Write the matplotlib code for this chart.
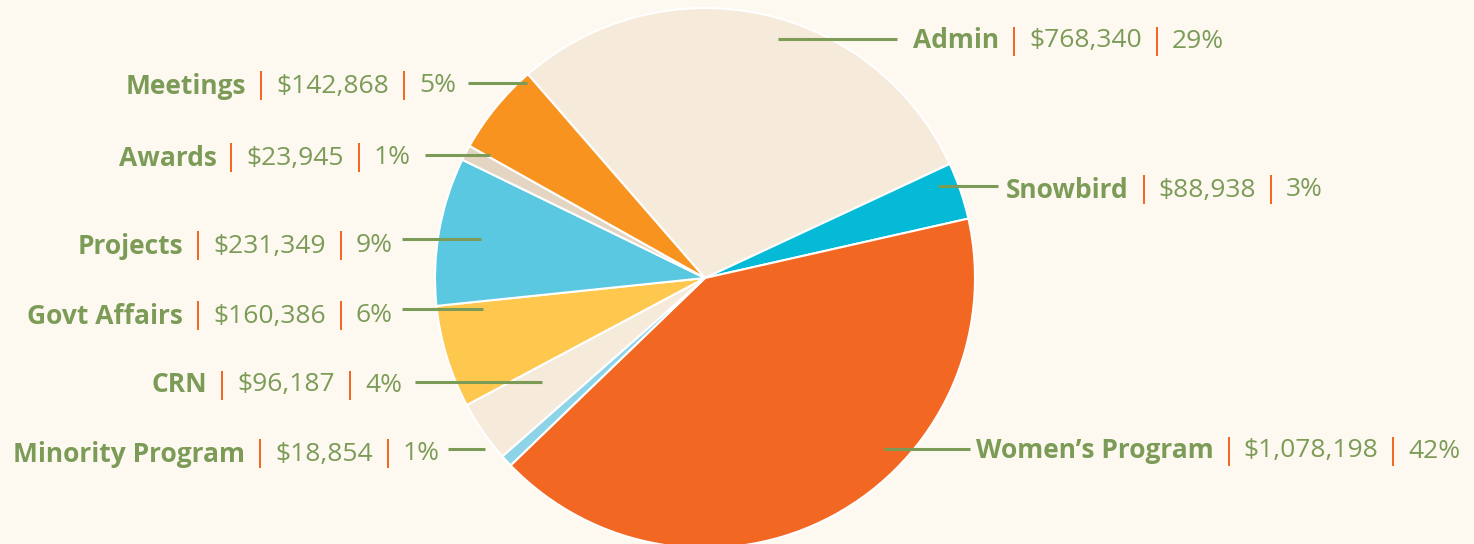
import matplotlib
matplotlib.use("Agg")
import matplotlib.pyplot as plt

# budget slices, clockwise from Admin
names = ["Admin", "Snowbird", "Women\u2019s Program", "Minority Program", "CRN",
         "Govt Affairs", "Projects", "Awards", "Meetings"]
amounts = [768340, 88938, 1078198, 18854, 96187, 160386, 231349, 23945, 142868]
pcts = ["29%", "3%", "42%", "1%", "4%", "6%", "9%", "1%", "5%"]
colors = ["#F6EADB", "#04BAD6", "#F26722", "#8ED4E8", "#F6EADB",
          "#FEC84E", "#5AC8E1", "#E4D5C3", "#F7931E"]

# label layout in pixels: (side, text anchor x, text y, line x0, line x1, line y)
label_pos = {
    "Admin": ("R", 913, 41, 778, 897, 39),
    "Snowbird": ("R", 1006, 190, 938, 998, 186),
    "Women\u2019s Program": ("R", 976, 451, 884, 970, 449),
    "Minority Program": ("L", 440, 454, 448, 485, 449),
    "CRN": ("L", 402, 385, 415, 542, 382),
    "Govt Affairs": ("L", 393, 316, 402, 483, 309),
    "Projects": ("L", 393, 246, 402, 481, 239),
    "Awards": ("L", 411, 158, 425, 490, 155),
    "Meetings": ("L", 456, 86, 468, 527, 83),
}

W, H = 1474, 544
green = "#7B9B57"
sep_col = "#F26A21"
bg = "#FDF9F1"
font = "Open Sans"
fs = 19

fig = plt.figure(figsize=(W / 100, H / 100), dpi=100, facecolor=bg)
ax = fig.add_axes([0, 0, 1, 1])
ax.set_facecolor(bg)
ax.set_xlim(0, W)
ax.set_ylim(0, H)
ax.set_aspect("equal")
ax.axis("off")

ax.pie(amounts, colors=colors, startangle=131, counterclock=False,
       center=(705, H - 278), radius=270,
       wedgeprops=dict(edgecolor="white", linewidth=1.5))
ax.set_xlim(0, W)
ax.set_ylim(0, H)

fig.canvas.draw()
r = fig.canvas.get_renderer()


def put(x, y, s, ha, color, weight, size=fs):
    t = ax.text(x, H - y, s, ha=ha, va="center", color=color, fontsize=size,
                fontweight=weight, family=font)
    return t.get_window_extent(renderer=r).width


gap = 7
for name, amt, pct in zip(names, amounts, pcts):
    side, tx, ty, lx0, lx1, ly = label_pos[name]
    ax.plot([lx0, lx1], [H - ly, H - ly], color=green, lw=2.2,
            solid_capstyle="butt")
    pieces = [(name, green, "bold", fs), ("|", sep_col, "normal", fs + 2),
              ("${:,}".format(amt), green, "normal", fs),
              ("|", sep_col, "normal", fs + 2),
              (pct, green, "normal", fs)]
    if side == "R":
        x = tx
        for s, c, w, z in pieces:
            x += put(x, ty, s, "left", c, w, z) + gap
    else:
        x = tx
        for s, c, w, z in reversed(pieces):
            x -= put(x, ty, s, "right", c, w, z) + gap

fig.savefig("out.png", dpi=100, facecolor=bg)
